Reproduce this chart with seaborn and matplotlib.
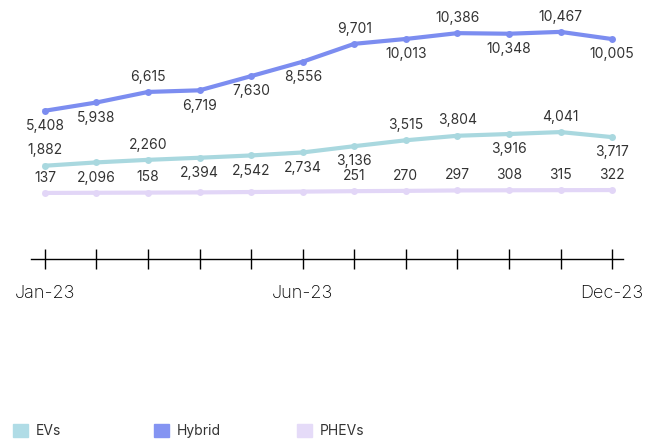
import matplotlib
matplotlib.use('Agg')
from matplotlib import pyplot as plt
from matplotlib.patches import Patch
import seaborn as sns
import pandas as pd

# datos mensuales 2023
months = ['Jan-23', 'Feb-23', 'Mar-23', 'Apr-23', 'May-23', 'Jun-23',
          'Jul-23', 'Aug-23', 'Sep-23', 'Oct-23', 'Nov-23', 'Dec-23']
hybrid = [5408, 5938, 6615, 6719, 7630, 8556, 9701, 10013, 10386, 10348, 10467, 10005]
evs = [1882, 2096, 2260, 2394, 2542, 2734, 3136, 3515, 3804, 3916, 4041, 3717]
phevs = [137, 148, 158, 172, 196, 222, 251, 270, 297, 308, 315, 322]
shown_ticks = ['Jan-23', 'Jun-23', 'Dec-23']

# donde va cada etiqueta (arriba / abajo); None = oculta
hybrid_pos = ['b', 'b', 'a', 'b', 'b', 'b', 'a', 'b', 'a', 'b', 'a', 'b']
evs_pos = ['a', 'b', 'a', 'b', 'b', 'b', 'b', 'a', 'a', 'b', 'a', 'b']
phevs_pos = ['a', None, 'a', None, None, None, 'a', 'a', 'a', 'a', 'a', 'a']

palette = {'EVs': '#A9D8DF', 'Hybrid': '#7C8DF0', 'PHEVs': '#E2D6F7'}
legend_colors = {'EVs': '#B0DCE6', 'Hybrid': '#8494F2', 'PHEVs': '#E5DBF8'}

df = pd.DataFrame({
    'x': list(range(len(months))) * 3,
    'value': hybrid + evs + phevs,
    'serie': ['Hybrid'] * 12 + ['EVs'] * 12 + ['PHEVs'] * 12,
})

plt.rcParams['font.family'] = ['Inter', 'DejaVu Sans']

fig = plt.figure(figsize=(6.66, 4.45), dpi=100)
ax = fig.add_axes([31 / 666, 1 - 259 / 445, 592 / 666, 249 / 445])

sns.lineplot(data=df, x='x', y='value', hue='serie', palette=palette,
             marker='o', markersize=5, markeredgewidth=0, linewidth=3,
             legend=False, ax=ax)

# etiquetas de datos
for vals, pos in [(hybrid, hybrid_pos), (evs, evs_pos), (phevs, phevs_pos)]:
    for i, (v, p) in enumerate(zip(vals, pos)):
        if p is None:
            continue
        dy = 11 if p == 'a' else -11
        ax.annotate(f'{v:,}', (i, v), xytext=(0, dy), textcoords='offset points',
                    ha='center', va='center', fontsize=10, color='#333333')

ax.set_xlim(-0.27, 11.21)
ax.set_ylim(-4100, 11870)
ax.set_xticks(range(len(months)))
ax.set_xticklabels([m if m in shown_ticks else '' for m in months],
                   fontsize=13, fontweight='light')
ax.set_yticks([])
ax.set_xlabel('')
ax.set_ylabel('')
for s in ['left', 'top', 'right']:
    ax.spines[s].set_visible(False)
ax.spines['bottom'].set_linewidth(1)
ax.tick_params(axis='x', direction='inout', length=14, width=1, pad=12, colors='black')

# leyenda inferior
for name, xpix in [('EVs', 13), ('Hybrid', 154), ('PHEVs', 297)]:
    fig.legend(handles=[Patch(color=legend_colors[name], label=name)],
               loc='center left', bbox_to_anchor=(xpix / 666, 1 - 431 / 445),
               frameon=False, borderpad=0, borderaxespad=0, fontsize=10,
               handlelength=1.1, handleheight=1.1, handletextpad=0.55,
               labelcolor='#333333')

fig.savefig('out.png', dpi=100)
